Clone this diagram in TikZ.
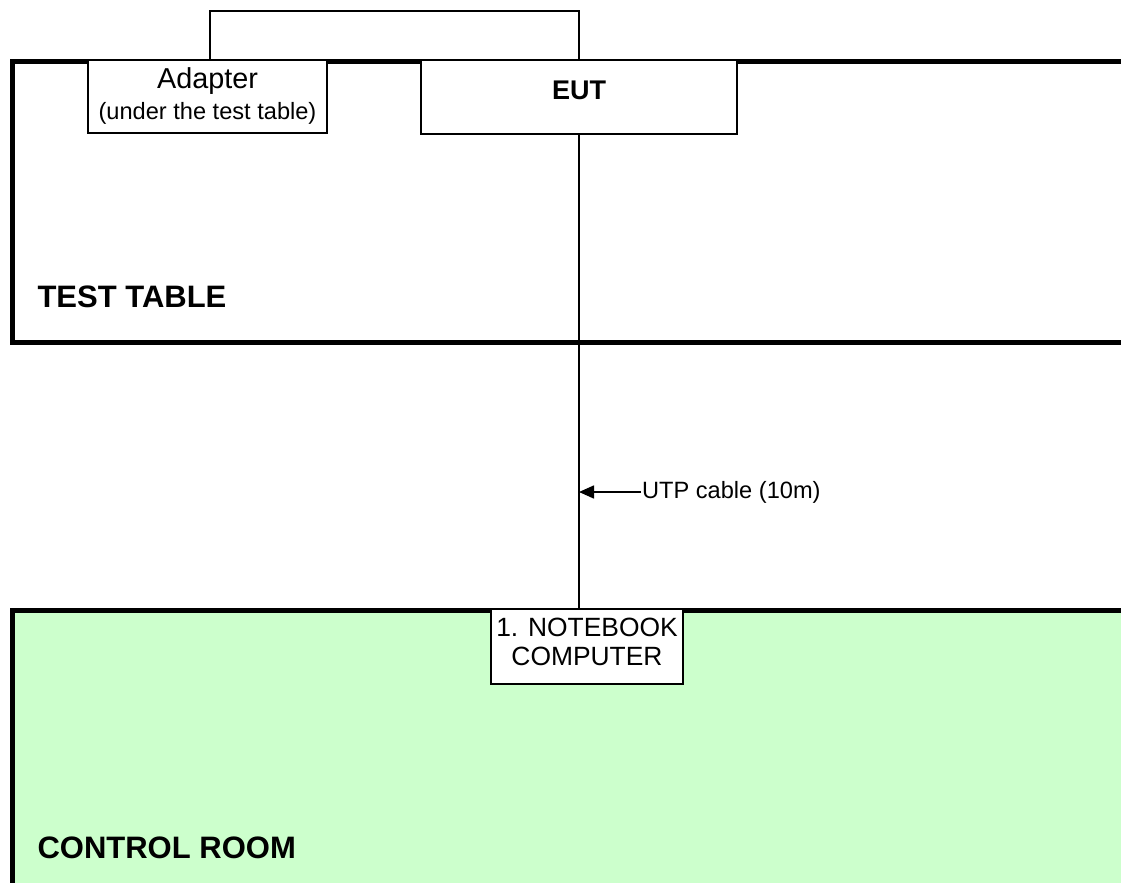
\documentclass[tikz,border=0pt]{standalone}
\usepackage{fontspec}
\setmainfont{Liberation Sans}
\usetikzlibrary{arrows.meta}
\definecolor{roomgreen}{RGB}{204,255,204}

\tikzset{
  frame/.style={line width=5pt, line join=miter},
  box/.style={draw, fill=white, line width=1.5pt, inner sep=0pt},
  cable/.style={line width=1.6pt},
  roomname/.style={anchor=base west, font=\fontsize{31}{36}\selectfont\bfseries},
}

\begin{document}
\begin{tikzpicture}[x=1pt, y=-1pt]
  \useasboundingbox (0,0) rectangle (1121,883);

  \fill[roomgreen] (12,610) rectangle (1121,883);
  \draw[frame] (1121,62) -- (12,62) -- (12,342) -- (1121,342);
  \draw[frame] (1121,610) -- (12,610) -- (12,883);

  \node[roomname] (testtable)   at (34,307) {TEST TABLE};
  \node[roomname] (controlroom) at (34,858) {CONTROL ROOM};

  \node[box, minimum width=239pt, minimum height=73pt] (adapter)  at (207.5,96.5) {};
  \node[box, minimum width=316pt, minimum height=74pt] (eut)      at (579,97)     {};
  \node[box, minimum width=192pt, minimum height=75pt] (notebook) at (587,646.5)  {};

  \node[font=\fontsize{28.8}{32}\selectfont]           (adaptername) at (207.5,81) {Adapter};
  \node[font=\fontsize{23.6}{28}\selectfont]           (adapternote) at (207.5,113) {(under the test table)};
  \node[font=\fontsize{27}{30}\selectfont\bfseries]    (eutname)     at (579,90)   {EUT};
  \node[font=\fontsize{26.4}{28.5}\selectfont, align=center] (notebookname) at (587,642) {1. NOTEBOOK\\COMPUTER};

  \draw[cable] ([xshift=2.5pt]adapter.north) -- ++(0,-48) -| (eut.north);
  \draw[cable] (eut.south) -- (eut.south |- notebook.north);

  \node[anchor=west, inner sep=1pt, font=\fontsize{23.6}{28}\selectfont] (utp) at (641,492) {UTP cable (10m)};
  \draw[cable, -{Triangle[length=15pt, width=13pt]}] (utp.west) -- (utp.west -| eut.south);
\end{tikzpicture}
\end{document}
